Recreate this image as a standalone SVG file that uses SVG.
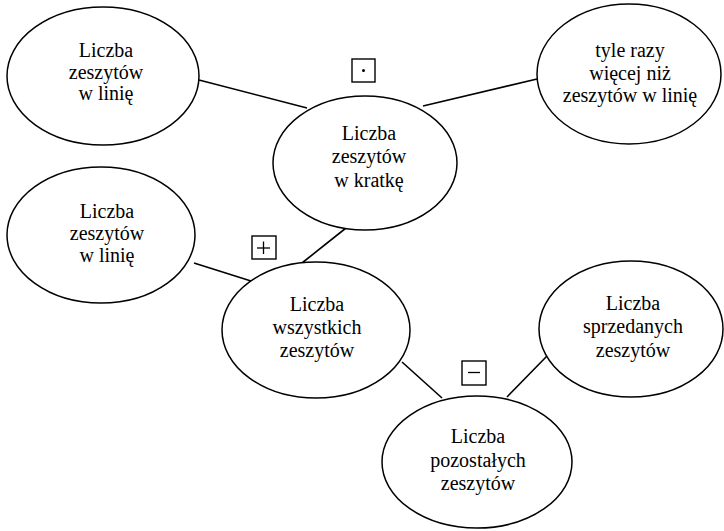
<svg xmlns="http://www.w3.org/2000/svg" width="724" height="531" viewBox="0 0 724 531">
<style>
.n{fill:#fff;stroke:#000;stroke-width:1.5}
.t{font-family:"Liberation Serif","Times New Roman",serif;font-size:20px;fill:#000;text-anchor:middle}
.c line{stroke:#000;stroke-width:1.6}
.op rect{fill:#fff;stroke:#000;stroke-width:1.4}
.op line{stroke:#000;stroke-width:1.3}
</style>
<rect width="724" height="531" fill="#fff"/>
<g id="connectors" class="c">
<line x1="199" y1="80" x2="307" y2="108"/>
<line x1="537" y1="79" x2="423" y2="106"/>
<line x1="346" y1="228" x2="302" y2="263"/>
<line x1="194" y1="263" x2="251" y2="281"/>
<line x1="402" y1="362" x2="442" y2="398"/>
<line x1="547" y1="356" x2="507" y2="397"/>
</g>
<g id="n1"><ellipse class="n" cx="103" cy="76" rx="96" ry="69"/>
<text class="t" x="106" y="57">Liczba</text><text class="t" x="106" y="79">zeszytów</text><text class="t" x="106" y="100">w linię</text></g>
<g id="n2"><ellipse class="n" cx="365" cy="163" rx="92" ry="67"/>
<text class="t" x="369" y="140">Liczba</text><text class="t" x="369" y="163">zeszytów</text><text class="t" x="369" y="187">w kratkę</text></g>
<g id="n3"><ellipse class="n" cx="629" cy="74" rx="92" ry="70"/>
<text class="t" x="630" y="57">tyle razy</text><text class="t" x="630" y="80">więcej niż</text><text class="t" x="630" y="102">zeszytów w linię</text></g>
<g id="n4"><ellipse class="n" cx="101" cy="235" rx="94" ry="68"/>
<text class="t" x="107" y="218">Liczba</text><text class="t" x="107" y="240">zeszytów</text><text class="t" x="107" y="262">w linię</text></g>
<g id="n5"><ellipse class="n" cx="316" cy="330" rx="94" ry="68"/>
<text class="t" x="317" y="311">Liczba</text><text class="t" x="317" y="334">wszystkich</text><text class="t" x="317" y="357">zeszytów</text></g>
<g id="n6"><ellipse class="n" cx="631" cy="329" rx="92" ry="68"/>
<text class="t" x="633" y="310">Liczba</text><text class="t" x="633" y="333">sprzedanych</text><text class="t" x="633" y="357">zeszytów</text></g>
<g id="n7"><ellipse class="n" cx="477" cy="462" rx="95" ry="66"/>
<text class="t" x="478" y="443">Liczba</text><text class="t" x="478" y="467">pozostałych</text><text class="t" x="478" y="490">zeszytów</text></g>
<g id="op-mul" class="op"><rect x="352" y="59" width="23" height="23"/><circle cx="363.5" cy="70.5" r="1.5" fill="#000"/></g>
<g id="op-add" class="op"><rect x="252" y="236" width="24" height="23"/><line x1="257" y1="248" x2="270" y2="248"/><line x1="263.5" y1="241.5" x2="263.5" y2="254"/></g>
<g id="op-sub" class="op"><rect x="462" y="361" width="24" height="24"/><line x1="468" y1="372.5" x2="480" y2="372.5"/></g>
</svg>
